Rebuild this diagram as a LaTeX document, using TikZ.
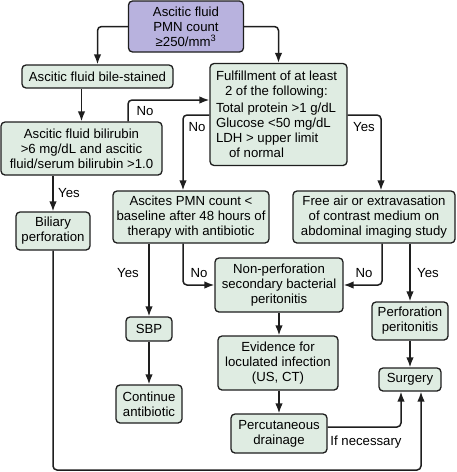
\documentclass[tikz,border=0pt]{standalone}
\usepackage{fontspec}
\setmainfont{Liberation Sans}
\usetikzlibrary{arrows.meta,positioning}
\definecolor{boxfill}{HTML}{DFECE2}
\definecolor{startfill}{HTML}{B8B2DE}
\definecolor{edge}{HTML}{1E1E1E}
\begin{document}
\begin{tikzpicture}[
		x=1pt, y=-1pt,
		box/.style={draw=edge, line width=1.3pt, rounded corners=4pt, fill=boxfill, align=center, inner sep=0pt, font=\fontsize{13.2}{15}\selectfont},
		start/.style={box, fill=startfill},
		answer/.style={inner sep=0pt, font=\fontsize{13.2}{15}\selectfont},
		flow/.style={draw=edge, line width=1.5pt, rounded corners=4pt, -{Latex[length=10pt,width=7.5pt]}},
	]
		\useasboundingbox (0,0) rectangle (456,472);
		
		\node (pmn) [start, minimum width=115pt, minimum height=51pt] at (186,26.5) {Ascitic fluid\\PMN count\\≥250/mm\textsuperscript{3}};
		\node (bile) [box, minimum width=151pt, minimum height=23pt] at (97.5,76.5) {Ascitic fluid bile-stained};
		\node (fulfil) [box, minimum width=137pt, minimum height=102pt, text width=125pt, align=flush left] at (278.5,114.5) {Fulfillment of at least\\\hspace*{9pt}2 of the following:\\[2pt]Total protein >1 g/dL\\Glucose <50 mg/dL\\LDH > upper limit\\\hspace*{13pt}of normal};
		\node (bili) [box, minimum width=161pt, minimum height=53pt] at (81.5,148.5) {Ascitic fluid bilirubin\\>6 mg/dL and ascitic\\fluid/serum bilirubin >1.0};
		\node (biliary) [box, minimum width=74pt, minimum height=38pt] at (53,231) {Biliary\\perforation};
		\node (ascites) [box, minimum width=156pt, minimum height=52pt] at (191,217) {Ascites PMN count <\\baseline after 48 hours of\\therapy with antibiotic};
		\node (freeair) [box, minimum width=162pt, minimum height=52pt] at (374,217) {Free air or extravasation\\of contrast medium on\\abdominal imaging study};
		\node (nonperf) [box, minimum width=128pt, minimum height=54pt] at (279,285) {Non-perforation\\secondary bacterial\\peritonitis};
		\node (perf) [box, minimum width=76pt, minimum height=38pt] at (410,321) {Perforation\\peritonitis};
		\node (sbp) [box, minimum width=46pt, minimum height=24pt] at (149,329) {SBP};
		\node (contin) [box, minimum width=66pt, minimum height=38pt] at (149,404) {Continue\\antibiotic};
		\node (evid) [box, minimum width=120pt, minimum height=54pt] at (278,363) {Evidence for\\loculated infection\\(US, CT)};
		\node (drain) [box, minimum width=96pt, minimum height=39pt] at (279,433.5) {Percutaneous\\drainage};
		\node (surgery) [box, minimum width=62pt, minimum height=23pt] at (410,379.5) {Surgery};
		\coordinate (corner) at (421,470);
		
		% answers on the branches
		\node (nobili) [answer] at (145,111) {No};
		\node (nofulfil) [answer] at (197,127) {No};
		\node (yesfulfil) [answer] at (364,127) {Yes};
		\node (yesbili) [answer] at (69,193) {Yes};
		\node (yesascites) [answer] at (128,273) {Yes};
		\node (noascites) [answer] at (199,273) {No};
		\node (nofreeair) [answer] at (364,273) {No};
		\node (yesfreeair) [answer] at (428,273) {Yes};
		\node (ifneeded) [answer] at (366,442) {If necessary};
		
		\draw[flow] (pmn.west) -| (bile.north);
		\draw[flow] (pmn.east) -| (fulfil.north);
		\draw[flow] (bile.south -| bili.north) -- (bili.north);
		\draw[flow] ([xshift=46.5pt]bili.north) |- ([yshift=14.5pt]fulfil.west);
		\draw[flow] ([yshift=-0.5pt]fulfil.west) -| ([xshift=-8pt]ascites.north);
		\draw[flow] ([yshift=-0.5pt]fulfil.east) -| ([xshift=7pt]freeair.north);
		\draw[flow] (bili.south -| biliary.north) -- (biliary.north);
		\draw[flow] (ascites.south -| sbp.north) -- (sbp.north);
		\draw[flow] ([xshift=-8pt]ascites.south) |- (nonperf.west);
		\draw[flow] ([xshift=8pt]freeair.south) |- (nonperf.east);
		\draw[flow] (freeair.south -| perf.north) -- (perf.north);
		\draw[flow] (perf) -- (surgery);
		\draw[flow] (sbp) -- (contin);
		\draw[flow] (nonperf.south) -- (nonperf.south |- evid.north);
		\draw[flow] (evid.south -| drain.north) -- (drain.north);
		\draw[flow] ([yshift=6.5pt]drain.east) -| ([xshift=-9pt]surgery.south);
		\draw[flow] (biliary.south) |- (corner) -- ([xshift=11pt]surgery.south);
	\end{tikzpicture}
\end{document}
